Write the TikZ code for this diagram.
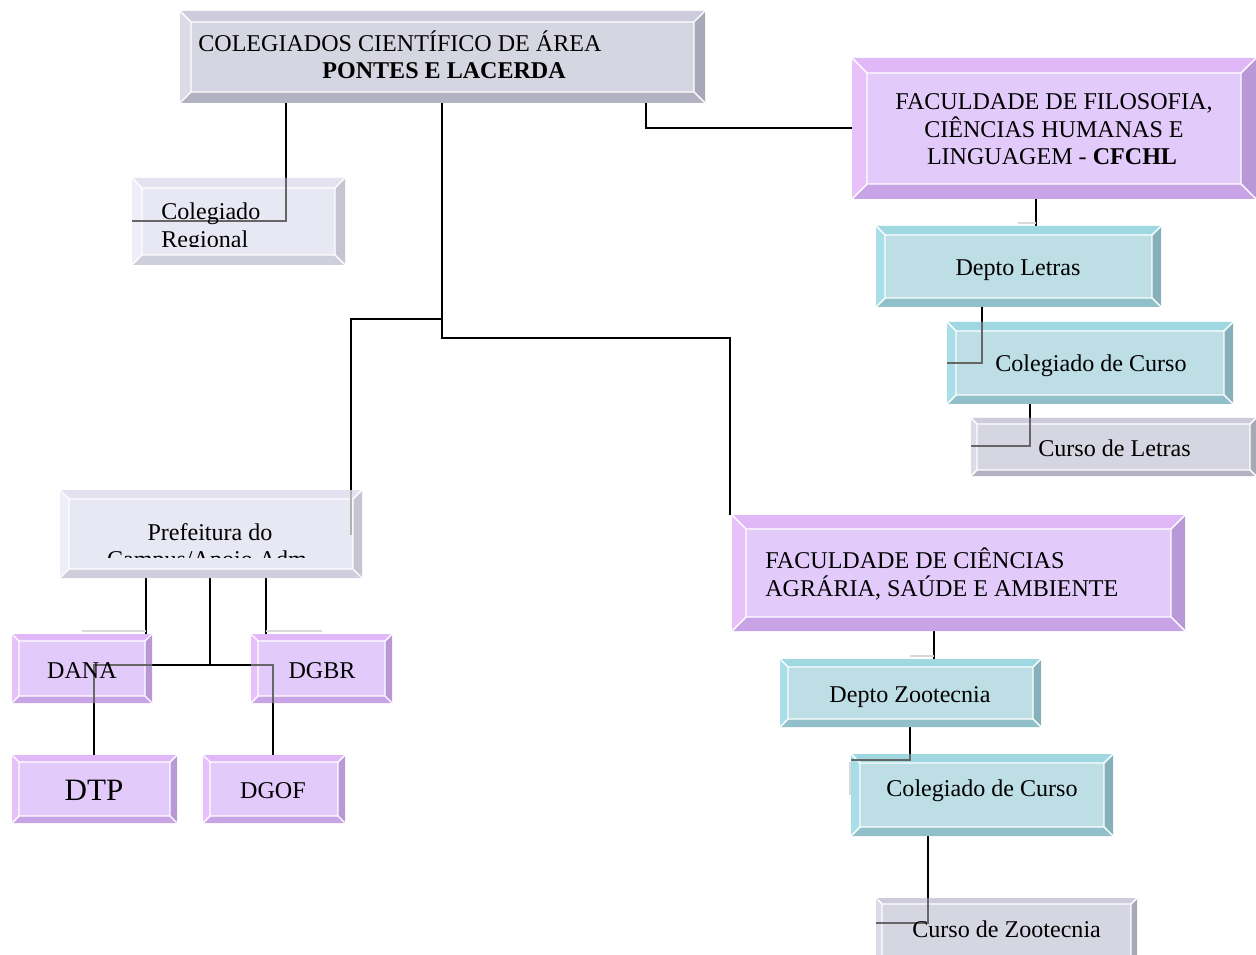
\documentclass[tikz,border=0pt]{standalone}
\usepackage{fontspec}
\setmainfont{Liberation Serif}
\usetikzlibrary{fit}
\pgfdeclarelayer{wires}
\pgfdeclarelayer{over}
\pgfsetlayers{wires,main,over}

% bevel colour sets: face, top, left, right, bottom
\definecolor{purface}{HTML}{E2CAFA}
\definecolor{purtop}{HTML}{E0B8F8}
\definecolor{purleft}{HTML}{E8C0FA}
\definecolor{purright}{HTML}{B898D6}
\definecolor{purbot}{HTML}{C8A4E6}
\definecolor{cyaface}{HTML}{BCDEE4}
\definecolor{cyatop}{HTML}{A0D8E2}
\definecolor{cyaleft}{HTML}{A8DEE8}
\definecolor{cyaright}{HTML}{86B0BA}
\definecolor{cyabot}{HTML}{92C0CA}
\definecolor{gryface}{HTML}{D6D6E2}
\definecolor{grytop}{HTML}{CCCCDC}
\definecolor{gryleft}{HTML}{DCDCE8}
\definecolor{gryright}{HTML}{A8A8B8}
\definecolor{grybot}{HTML}{B2B2C2}
\definecolor{ltgface}{HTML}{E8E8F4}
\definecolor{ltgtop}{HTML}{E2E2F0}
\definecolor{ltgleft}{HTML}{EEEEF8}
\definecolor{ltgright}{HTML}{C4C4D2}
\definecolor{ltgbot}{HTML}{CECEDC}

\tikzset{
  x=0.02cm, y=-0.02cm,
  bevline/.style={white, line width=0.8pt},
  wire/.style={black, line width=1.1pt},
  wirein/.style={black!60, line width=1pt},
  wirepale/.style={black!30, line width=1pt},
  faint/.style={black!15, line width=0.8pt},
  lbl/.style={inner sep=0pt, anchor=base west, font=\fontsize{13.7}{15.5}\selectfont},
  lblc/.style={lbl, anchor=base},
}

% bevelled box: name, x1, y1, x2, y2, colour set, bevel width
\newcommand\bevbox[7]{%
  \node[fit={(#2,#3)(#4,#5)}, inner sep=0pt, outer sep=0pt, fill=#6face] (#1) {};
  \fill[#6top] (#2,#3) -- (#4,#3) -- (#4-#7,#3+#7) -- (#2+#7,#3+#7) -- cycle;
  \fill[#6left] (#2,#3) -- (#2+#7,#3+#7) -- (#2+#7,#5-#7) -- (#2,#5) -- cycle;
  \fill[#6right] (#4,#3) -- (#4,#5) -- (#4-#7,#5-#7) -- (#4-#7,#3+#7) -- cycle;
  \fill[#6bot] (#2,#5) -- (#4,#5) -- (#4-#7,#5-#7) -- (#2+#7,#5-#7) -- cycle;
  \draw[bevline] (#2+#7,#3+#7) rectangle (#4-#7,#5-#7)
    (#2,#3) -- (#2+#7,#3+#7) (#4,#3) -- (#4-#7,#3+#7)
    (#2,#5) -- (#2+#7,#5-#7) (#4,#5) -- (#4-#7,#5-#7);
}

\begin{document}
\begin{tikzpicture}
\useasboundingbox (0,0) rectangle (1256,955);

% boxes
\bevbox{top}{180}{11}{705}{103}{gry}{11}
\bevbox{reg}{132}{178}{345}{265}{ltg}{10}
\bevbox{cfchl}{852}{58}{1256}{199}{pur}{15}
\bevbox{dletras}{876}{226}{1161}{307}{cya}{9}
\bevbox{colL}{947}{322}{1233}{404}{cya}{9}
\bevbox{cletras}{971}{418}{1256}{476}{gry}{6}
\bevbox{pref}{60}{490}{362}{578}{ltg}{9}
\bevbox{fcasa}{732}{515}{1185}{631}{pur}{14}
\bevbox{dzoo}{780}{659}{1041}{727}{cya}{8}
\bevbox{colZ}{851}{754}{1113}{836}{cya}{9}
\bevbox{czoo}{876}{898}{1137}{962}{gry}{6}
\bevbox{dana}{12}{634}{152}{703}{pur}{7}
\bevbox{dgbr}{251}{634}{392}{703}{pur}{7}
\bevbox{dtp}{12}{755}{177}{823}{pur}{7}
\bevbox{dgof}{203}{755}{345}{823}{pur}{7}

% connectors, drawn beneath the boxes
\begin{pgfonlayer}{wires}
  \coordinate (hub) at (442,319);
  \draw[wire] (top.south -| 286,0) |- (reg.west |- 0,221);
  \draw[wire] (top.south -| 646,0) |- (cfchl.west |- 0,128);
  \draw[wire] (top.south -| 442,0) -- (hub) -| (351,535);
  \draw[wire] (hub) |- (730,338) -- (fcasa.north -| 730,0);
  \draw[wire] (cfchl.south -| 1036,0) -- (dletras.north -| 1036,0);
  \draw[wire] (dletras.south -| 982,0) |- (colL.west |- 0,363);
  \draw[wire] (colL.south -| 1030,0) |- (cletras.west |- 0,446);
  \draw[wire] (fcasa.south -| 934,0) -- (dzoo.north -| 934,0);
  \draw[wire] (dzoo.south -| 910,0) |- (colZ.west |- 0,760);
  \draw[wire] (colZ.south -| 928,0) |- (czoo.west |- 0,923);
  \draw[wire] (pref.south -| 146,0) -- (dana.north -| 146,0);
  \draw[wire] (pref.south -| 266,0) -- (dgbr.north -| 266,0);
  \coordinate (split) at (210,665);
  \draw[wire] (pref.south -| 210,0) -- (split);
  \draw[wire] (split) -| (dtp.north -| 94,0);
  \draw[wire] (split) -| (dgof.north -| 273,0);
\end{pgfonlayer}

% connector runs seen through the boxes, and their pale traces
\begin{pgfonlayer}{over}
  \draw[wirein] (reg.north -| 286,0) |- (reg.west |- 0,221);
  \draw[wirepale] (pref.north -| 351,0) -- (351,535);
  \draw[wirein] (colL.north -| 982,0) |- (colL.west |- 0,363);
  \draw[wirein] (cletras.north -| 1030,0) |- (cletras.west |- 0,446);
  \draw[wirein] (colZ.north -| 910,0) |- (colZ.west |- 0,760);
  \draw[wirein] (czoo.north -| 928,0) |- (czoo.west |- 0,923);
  \draw[wirein] (dana.east |- 0,665) -| (dana.south -| 94,0);
  \draw[wirein] (dgbr.west |- 0,665) -| (dgbr.south -| 273,0);
  \draw[faint] (1018,223) -- (1036,223);
  \draw[faint] (910,656) -- (934,656);
  \draw[faint] (850,762) -- (850,795);
  \draw[faint] (82,631) -- (146,631);
  \draw[faint] (266,631) -- (322,631);
\end{pgfonlayer}

% labels
\begin{pgfonlayer}{over}
  \node[lbl] (t1) at (198,52) {COLEGIADOS CIENTÍFICO DE ÁREA};
  \node[lbl] (t2) at (322,79) {\textbf{PONTES E LACERDA}};
  \begin{scope}
    \clip (142,188) rectangle (335,247);
    \node[lbl] (r1) at (161,220) {Colegiado};
    \node[lbl] (r2) at (161,248) {Regional};
  \end{scope}
  \node[lblc] (c1) at (1054,110) {FACULDADE DE FILOSOFIA,};
  \node[lblc] (c2) at (1054,138) {CIÊNCIAS HUMANAS E};
  \node[lblc] (c3) at (1052,165) {LINGUAGEM - \textbf{CFCHL}};
  \node[lblc] (l1) at (1018,276) {Depto Letras};
  \node[lbl] (l2) at (995,372) {Colegiado de Curso};
  \node[lbl] (l3) at (1038,457) {Curso de Letras};
  \begin{scope}
    \clip (69,499) rectangle (353,557);
    \node[lblc] (p1) at (210,540) {Prefeitura do};
    \node[lblc] (p2) at (210,567) {Campus/Apoio Adm.};
  \end{scope}
  \node[lbl] (f1) at (765,568) {FACULDADE DE CIÊNCIAS};
  \node[lbl] (f2) at (765,596) {AGRÁRIA, SAÚDE E AMBIENTE};
  \node[lblc] (z1) at (910,702) {Depto Zootecnia};
  \node[lblc] (z2) at (982,796) {Colegiado de Curso};
  \node[lbl] (z3) at (912,937) {Curso de Zootecnia};
  \node[lblc] (d1) at (82,678) {DANA};
  \node[lblc] (d2) at (322,678) {DGBR};
  \node[lblc, font=\fontsize{17.7}{20}\selectfont] (d3) at (94,800) {DTP};
  \node[lblc] (d4) at (273,798) {DGOF};
\end{pgfonlayer}
\end{tikzpicture}
\end{document}
